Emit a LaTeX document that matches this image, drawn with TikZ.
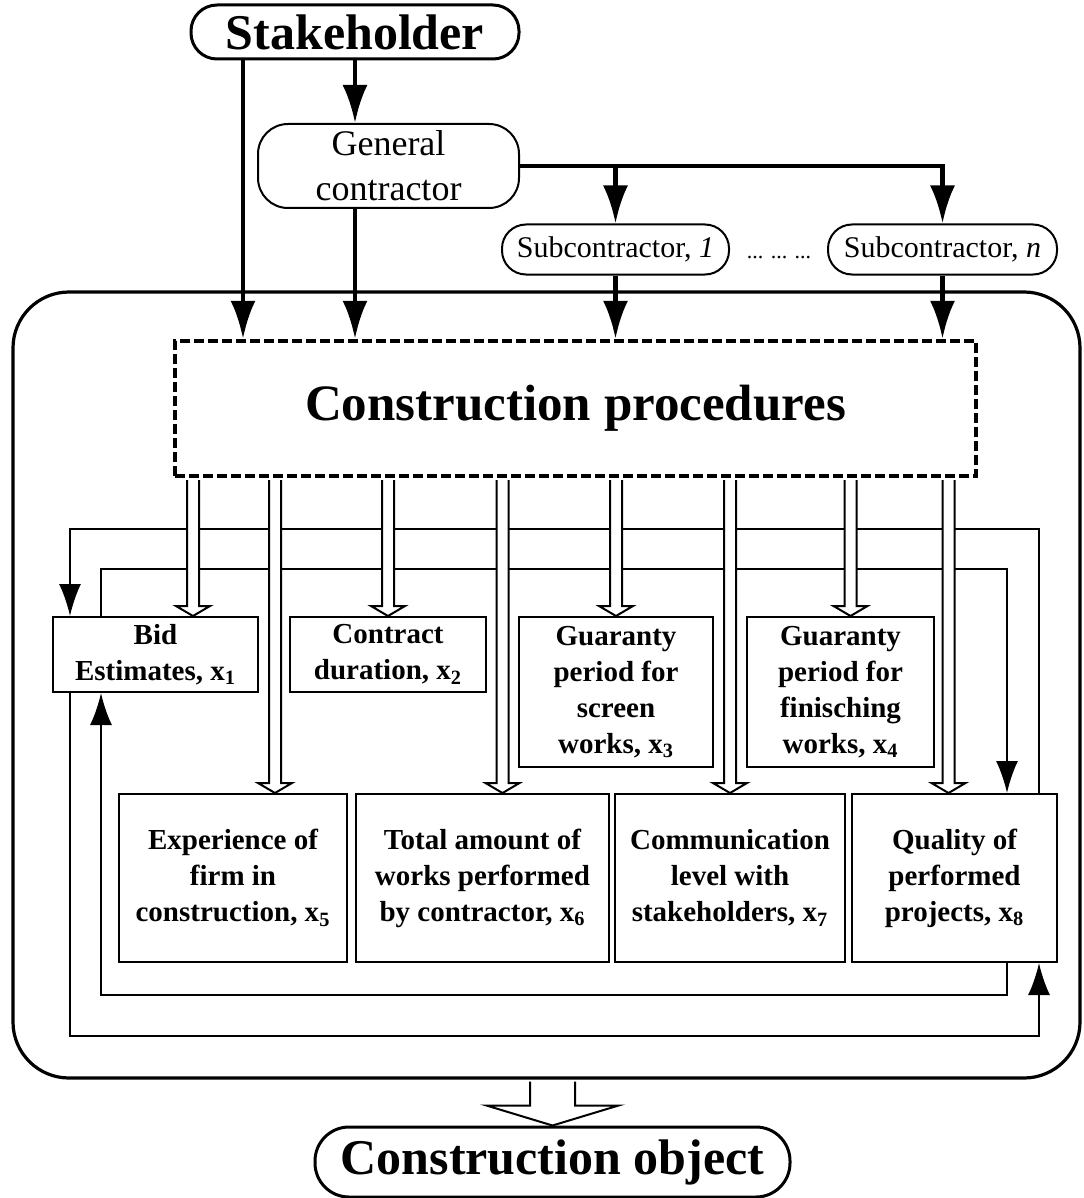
\documentclass[tikz,border=0pt]{standalone}
\usepackage{fontspec}
\setmainfont{Liberation Serif}
\usetikzlibrary{arrows.meta, calc}

% open (white) arrow: start, end, half shaft, half head, head length
\newcommand{\hollowArrow}[5]{%
    \draw[hollowLine] let \p1=(#1), \p2=(#2) in
        (\x2-#3,\y1-1pt) -- (\x2-#3,\y2+#5) -- (\x2-#4,\y2+#5) -- (\x2,\y2)
        -- (\x2+#4,\y2+#5) -- (\x2+#3,\y2+#5) -- (\x2+#3,\y1-1pt);
}

\begin{document}
\begin{tikzpicture}[
    x=0.5pt, y=-0.5pt,
    topBox/.style={draw, line width=1.5pt, rounded corners=13pt, inner sep=0pt,
        font=\fontsize{25}{30}\selectfont\bfseries},
    roundBox/.style={draw, line width=1pt, inner sep=0pt, align=center},
    factorBox/.style={draw, line width=1pt, inner sep=0pt, align=center,
        font=\fontsize{14.5}{18}\selectfont\bfseries},
    thickArrow/.style={line width=2.3pt, -{Latex[length=19pt, width=12.5pt]}},
    thinArrow/.style={line width=1pt, -{Latex[length=16pt, width=11pt]}},
    hollowLine/.style={line width=1pt, fill=white}
    ]
    \useasboundingbox (0,0) rectangle (1083,1198);

    \node[draw, line width=1.6pt, rounded corners=28pt, minimum width=533.5pt, minimum height=393pt] (frame) at (546.5,685) {};

    \node[topBox, minimum width=164pt, minimum height=27pt] (stake) at (355,32) {Stakeholder};
    \node[roundBox, rounded corners=15pt, minimum width=130.5pt, minimum height=42pt,
        font=\fontsize{18}{22.5}\selectfont] (gc) at (388.5,166) {General\\contractor};
    \node[roundBox, rounded corners=12pt, minimum width=113.5pt, minimum height=25pt,
        font=\fontsize{15}{18}\selectfont] (sub1) at (615.5,249.5) {Subcontractor, \textit{1}};
    \node[roundBox, rounded corners=12pt, minimum width=114.5pt, minimum height=25pt,
        font=\fontsize{15}{18}\selectfont] (subn) at (942.5,249.5) {Subcontractor, \textit{n}};
    \node[anchor=base, font=\fontsize{11}{13}\selectfont] (dots) at (779,258) {... ... ...};

    \node[draw, line width=2.2pt, dash pattern=on 5pt off 2pt, minimum width=400.5pt, minimum height=67.5pt,
        font=\fontsize{25.5}{30}\selectfont\bfseries] (proc) at (575.5,408.5) {Construction procedures};

    \node[factorBox, minimum width=102.5pt, minimum height=37.5pt] (bid) at (155.5,654.5) {Bid\\Estimates, x\textsubscript{1}};
    \node[factorBox, minimum width=98pt, minimum height=37.5pt] (contract) at (388,654.5) {Contract\\duration, x\textsubscript{2}};
    \node[factorBox, minimum width=97pt, minimum height=75pt] (screen) at (616,692) {Guaranty\\period for\\screen\\works, x\textsubscript{3}};
    \node[factorBox, minimum width=93.5pt, minimum height=75pt] (finish) at (840.5,692) {Guaranty\\period for\\finisching\\works, x\textsubscript{4}};
    \node[factorBox, minimum width=114pt, minimum height=84pt] (exper) at (233,878) {Experience of\\firm in\\construction, x\textsubscript{5}};
    \node[factorBox, minimum width=126.5pt, minimum height=84pt] (total) at (482.5,878) {Total amount of\\works performed\\by contractor, x\textsubscript{6}};
    \node[factorBox, minimum width=115pt, minimum height=84pt] (comm) at (730,878) {Communication\\level with\\stakeholders, x\textsubscript{7}};
    \node[factorBox, minimum width=102.5pt, minimum height=84pt] (quality) at (954.5,878) {Quality of\\performed\\projects, x\textsubscript{8}};

    \node[topBox, rounded corners=17pt, minimum width=237.5pt, minimum height=35pt] (obj) at (552.5,1162) {Construction object};

    % participants
    \coordinate (stakeL) at ([xshift=-56pt]stake.south);
    \draw[thickArrow] (stakeL) -- (stakeL |- proc.north);
    \draw[thickArrow] (stake.south) -- (stake.south |- gc.north);
    \draw[thickArrow] (gc.south -| stake.south) -- (stake.south |- proc.north);
    \draw[thickArrow] (gc.east) -| (subn.north);
    \draw[thickArrow] (gc.east -| sub1.north) -- (sub1.north);
    \draw[thickArrow] (sub1.south) -- (sub1.south |- proc.north);
    \draw[thickArrow] (subn.south) -- (subn.south |- proc.north);

    % feedback loops
    \coordinate (loopTop) at (0,529);
    \coordinate (loopTopIn) at (0,569);
    \coordinate (loopBotIn) at (0,995);
    \coordinate (loopBot) at (0,1036);
    \coordinate (outerL) at ([xshift=9pt]bid.north west);
    \coordinate (innerL) at ([xshift=24.5pt]bid.north west);
    \coordinate (outerR) at ([xshift=-9.5pt]quality.north east);
    \coordinate (innerR) at ([xshift=-25.5pt]quality.north east);
    \draw[thinArrow] (outerR) -- (outerR |- loopTop) -| (outerL);
    \draw[thinArrow] (outerL |- bid.south) -- (outerL |- loopBot) -| (outerR |- quality.south);
    \draw[thinArrow] (innerL) -- (innerL |- loopTopIn) -| (innerR);
    \draw[thinArrow] (innerR |- quality.south) -- (innerR |- loopBotIn) -| (innerL |- bid.south);

    % procedures to factors
    \foreach \b/\s in {bid/18.75pt, contract/0pt, screen/0pt, finish/5pt, exper/21pt, total/10pt, comm/0pt, quality/-3pt}
        \hollowArrow{proc.south}{[xshift=\s]\b.north}{3pt}{8.5pt}{5pt};
    \hollowArrow{frame.south}{obj.north}{11.25pt}{33pt}{10pt}
\end{tikzpicture}
\end{document}
